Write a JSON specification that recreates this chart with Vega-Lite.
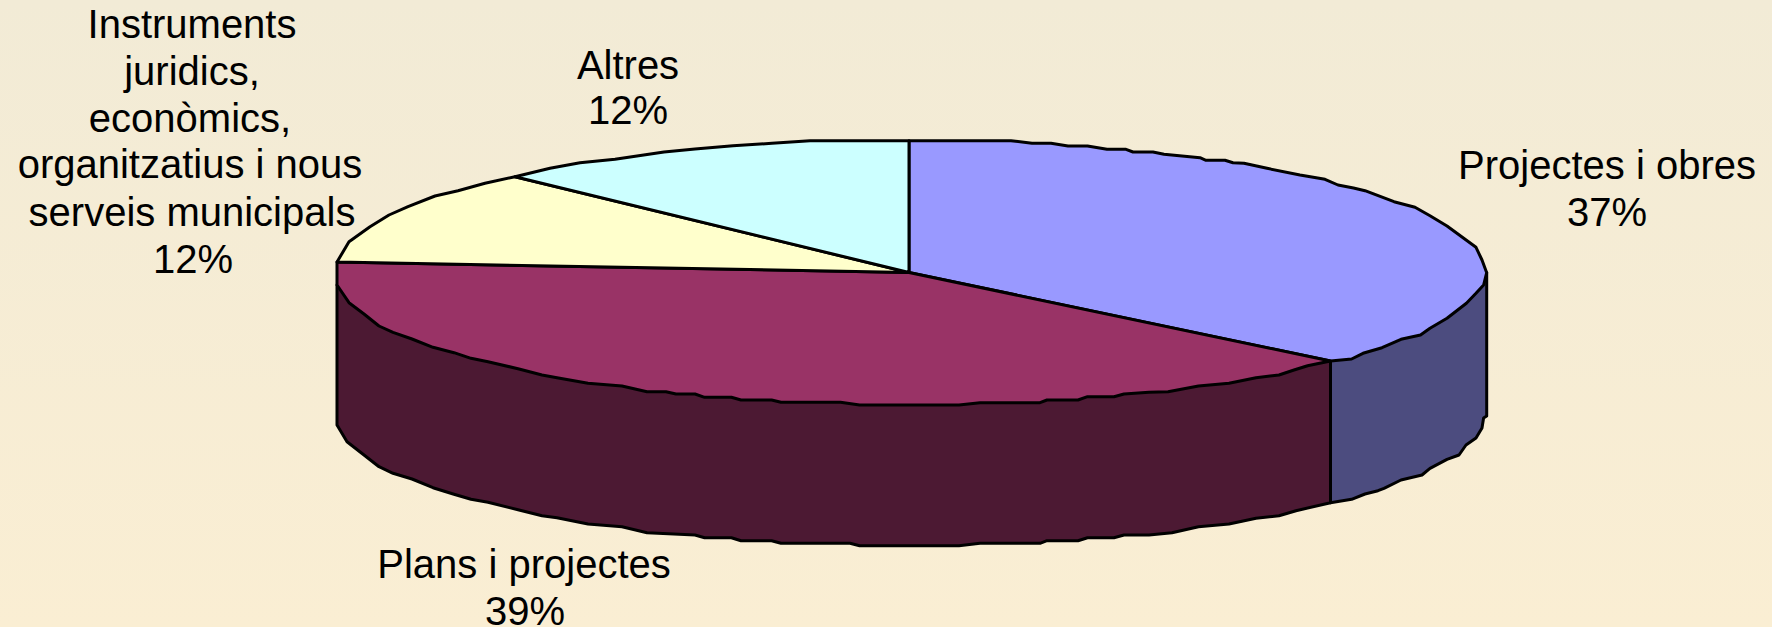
{"$schema":"https://vega.github.io/schema/vega-lite/v6.json","width":1772,"height":627,"padding":0,"autosize":{"type":"none"},"background":"#f6edd5","view":{"stroke":null,"fill":{"gradient":"linear","x1":0,"y1":0,"x2":0,"y2":1,"stops":[{"offset":0,"color":"#f2ebd6"},{"offset":1,"color":"#faeed3"}]}},"datasets":{"outline":[
{"slice":"Plans side","i":0,"x":337,"y":285},{"slice":"Plans side","i":1,"x":337,"y":425},{"slice":"Plans side","i":2,"x":347,"y":441.7},{"slice":"Plans side","i":3,"x":364,"y":455},{"slice":"Plans side","i":4,"x":379,"y":466.7},{"slice":"Plans side","i":5,"x":393,"y":473.3},{"slice":"Plans side","i":6,"x":412,"y":479},{"slice":"Plans side","i":7,"x":433,"y":487.7},{"slice":"Plans side","i":8,"x":454,"y":494.3},{"slice":"Plans side","i":9,"x":471,"y":499.3},{"slice":"Plans side","i":10,"x":488,"y":502.3},{"slice":"Plans side","i":11,"x":519,"y":510},{"slice":"Plans side","i":12,"x":542,"y":515.7},{"slice":"Plans side","i":13,"x":557,"y":517.7},{"slice":"Plans side","i":14,"x":588,"y":524},{"slice":"Plans side","i":15,"x":622,"y":526.7},{"slice":"Plans side","i":16,"x":647,"y":532.7},{"slice":"Plans side","i":17,"x":695,"y":535},{"slice":"Plans side","i":18,"x":704.6,"y":537.7},{"slice":"Plans side","i":19,"x":731.4,"y":537.7},{"slice":"Plans side","i":20,"x":741,"y":540.7},{"slice":"Plans side","i":21,"x":771.6,"y":540.7},{"slice":"Plans side","i":22,"x":781,"y":543.3},{"slice":"Plans side","i":23,"x":850,"y":543.3},{"slice":"Plans side","i":24,"x":859.6,"y":545.7},{"slice":"Plans side","i":25,"x":959,"y":545.7},{"slice":"Plans side","i":26,"x":980,"y":543.3},{"slice":"Plans side","i":27,"x":1040,"y":543.3},{"slice":"Plans side","i":28,"x":1047,"y":540.7},{"slice":"Plans side","i":29,"x":1078,"y":540.7},{"slice":"Plans side","i":30,"x":1087.5,"y":537.7},{"slice":"Plans side","i":31,"x":1114,"y":537.7},{"slice":"Plans side","i":32,"x":1124,"y":535},{"slice":"Plans side","i":33,"x":1149,"y":535},{"slice":"Plans side","i":34,"x":1172,"y":532.7},{"slice":"Plans side","i":35,"x":1198.5,"y":526.7},{"slice":"Plans side","i":36,"x":1229,"y":524},{"slice":"Plans side","i":37,"x":1256,"y":518.3},{"slice":"Plans side","i":38,"x":1279,"y":515.7},{"slice":"Plans side","i":39,"x":1296,"y":510.7},{"slice":"Plans side","i":40,"x":1330.5,"y":502.7},{"slice":"Plans side","i":41,"x":1330.5,"y":361},
{"slice":"Projectes side","i":0,"x":1486.7,"y":272.7},{"slice":"Projectes side","i":1,"x":1486.7,"y":416},{"slice":"Projectes side","i":2,"x":1483.6,"y":418},{"slice":"Projectes side","i":3,"x":1482,"y":428},{"slice":"Projectes side","i":4,"x":1476,"y":438},{"slice":"Projectes side","i":5,"x":1466,"y":445},{"slice":"Projectes side","i":6,"x":1459,"y":455},{"slice":"Projectes side","i":7,"x":1447,"y":459.3},{"slice":"Projectes side","i":8,"x":1430,"y":468.3},{"slice":"Projectes side","i":9,"x":1422,"y":475},{"slice":"Projectes side","i":10,"x":1401,"y":480},{"slice":"Projectes side","i":11,"x":1384,"y":488.3},{"slice":"Projectes side","i":12,"x":1378,"y":490.7},{"slice":"Projectes side","i":13,"x":1365,"y":494},{"slice":"Projectes side","i":14,"x":1351.6,"y":499.3},{"slice":"Projectes side","i":15,"x":1330.5,"y":502.7},{"slice":"Projectes side","i":16,"x":1330.5,"y":361},
{"slice":"Projectes i obres","i":0,"x":909,"y":272.5},{"slice":"Projectes i obres","i":1,"x":909,"y":140.7},{"slice":"Projectes i obres","i":2,"x":1011,"y":140.7},{"slice":"Projectes i obres","i":3,"x":1032,"y":143.3},{"slice":"Projectes i obres","i":4,"x":1051,"y":143.3},{"slice":"Projectes i obres","i":5,"x":1068,"y":146},{"slice":"Projectes i obres","i":6,"x":1087.5,"y":146},{"slice":"Projectes i obres","i":7,"x":1107,"y":149.3},{"slice":"Projectes i obres","i":8,"x":1126,"y":149.3},{"slice":"Projectes i obres","i":9,"x":1133,"y":152},{"slice":"Projectes i obres","i":10,"x":1153,"y":152},{"slice":"Projectes i obres","i":11,"x":1164,"y":154.3},{"slice":"Projectes i obres","i":12,"x":1200,"y":157.7},{"slice":"Projectes i obres","i":13,"x":1206,"y":160.3},{"slice":"Projectes i obres","i":14,"x":1225,"y":160.3},{"slice":"Projectes i obres","i":15,"x":1233,"y":162.7},{"slice":"Projectes i obres","i":16,"x":1244,"y":163.3},{"slice":"Projectes i obres","i":17,"x":1267,"y":168.3},{"slice":"Projectes i obres","i":18,"x":1300,"y":175},{"slice":"Projectes i obres","i":19,"x":1325,"y":179.3},{"slice":"Projectes i obres","i":20,"x":1338,"y":185},{"slice":"Projectes i obres","i":21,"x":1353.5,"y":188},{"slice":"Projectes i obres","i":22,"x":1365,"y":190.7},{"slice":"Projectes i obres","i":23,"x":1394,"y":201.7},{"slice":"Projectes i obres","i":24,"x":1415,"y":207.3},{"slice":"Projectes i obres","i":25,"x":1430,"y":215.7},{"slice":"Projectes i obres","i":26,"x":1447,"y":226},{"slice":"Projectes i obres","i":27,"x":1476,"y":247.3},{"slice":"Projectes i obres","i":28,"x":1482,"y":260},{"slice":"Projectes i obres","i":29,"x":1486.7,"y":272.7},{"slice":"Projectes i obres","i":30,"x":1483.6,"y":285},{"slice":"Projectes i obres","i":31,"x":1476,"y":293.3},{"slice":"Projectes i obres","i":32,"x":1466.4,"y":303.3},{"slice":"Projectes i obres","i":33,"x":1447,"y":318.3},{"slice":"Projectes i obres","i":34,"x":1430,"y":328.3},{"slice":"Projectes i obres","i":35,"x":1420.5,"y":335},{"slice":"Projectes i obres","i":36,"x":1401,"y":339.3},{"slice":"Projectes i obres","i":37,"x":1382,"y":347.7},{"slice":"Projectes i obres","i":38,"x":1363,"y":353.3},{"slice":"Projectes i obres","i":39,"x":1351.6,"y":359},{"slice":"Projectes i obres","i":40,"x":1330.5,"y":361},
{"slice":"Plans i projectes","i":0,"x":909,"y":272.5},{"slice":"Plans i projectes","i":1,"x":1330.5,"y":361},{"slice":"Plans i projectes","i":2,"x":1307.6,"y":365.7},{"slice":"Plans i projectes","i":3,"x":1294,"y":370},{"slice":"Plans i projectes","i":4,"x":1279,"y":375},{"slice":"Plans i projectes","i":5,"x":1256,"y":377.7},{"slice":"Plans i projectes","i":6,"x":1229,"y":383.3},{"slice":"Plans i projectes","i":7,"x":1198.5,"y":386},{"slice":"Plans i projectes","i":8,"x":1168,"y":391.7},{"slice":"Plans i projectes","i":9,"x":1149,"y":392.3},{"slice":"Plans i projectes","i":10,"x":1124,"y":394},{"slice":"Plans i projectes","i":11,"x":1114,"y":396.7},{"slice":"Plans i projectes","i":12,"x":1087.5,"y":396.7},{"slice":"Plans i projectes","i":13,"x":1078,"y":400},{"slice":"Plans i projectes","i":14,"x":1047,"y":400},{"slice":"Plans i projectes","i":15,"x":1040,"y":402.7},{"slice":"Plans i projectes","i":16,"x":980,"y":402.7},{"slice":"Plans i projectes","i":17,"x":959,"y":405},{"slice":"Plans i projectes","i":18,"x":859.6,"y":405},{"slice":"Plans i projectes","i":19,"x":840.5,"y":402.3},{"slice":"Plans i projectes","i":20,"x":781,"y":402.3},{"slice":"Plans i projectes","i":21,"x":771.6,"y":400},{"slice":"Plans i projectes","i":22,"x":741,"y":400},{"slice":"Plans i projectes","i":23,"x":731.4,"y":397.3},{"slice":"Plans i projectes","i":24,"x":704.6,"y":397.3},{"slice":"Plans i projectes","i":25,"x":695,"y":394},{"slice":"Plans i projectes","i":26,"x":676,"y":394},{"slice":"Plans i projectes","i":27,"x":666,"y":391.7},{"slice":"Plans i projectes","i":28,"x":647,"y":391.7},{"slice":"Plans i projectes","i":29,"x":622,"y":386},{"slice":"Plans i projectes","i":30,"x":588,"y":383.3},{"slice":"Plans i projectes","i":31,"x":557,"y":377.7},{"slice":"Plans i projectes","i":32,"x":542,"y":375},{"slice":"Plans i projectes","i":33,"x":519,"y":369},{"slice":"Plans i projectes","i":34,"x":488,"y":361.7},{"slice":"Plans i projectes","i":35,"x":471,"y":358.3},{"slice":"Plans i projectes","i":36,"x":454,"y":352.7},{"slice":"Plans i projectes","i":37,"x":433,"y":347.3},{"slice":"Plans i projectes","i":38,"x":412,"y":339},{"slice":"Plans i projectes","i":39,"x":393,"y":332.3},{"slice":"Plans i projectes","i":40,"x":379,"y":326},{"slice":"Plans i projectes","i":41,"x":364,"y":314},{"slice":"Plans i projectes","i":42,"x":349,"y":302.7},{"slice":"Plans i projectes","i":43,"x":337,"y":285},{"slice":"Plans i projectes","i":44,"x":337,"y":262},
{"slice":"Instruments","i":0,"x":909,"y":272.5},{"slice":"Instruments","i":1,"x":337,"y":262},{"slice":"Instruments","i":2,"x":349,"y":241.7},{"slice":"Instruments","i":3,"x":370,"y":226.7},{"slice":"Instruments","i":4,"x":389,"y":215},{"slice":"Instruments","i":5,"x":408,"y":206.7},{"slice":"Instruments","i":6,"x":435,"y":196},{"slice":"Instruments","i":7,"x":458,"y":190.7},{"slice":"Instruments","i":8,"x":485,"y":183.3},{"slice":"Instruments","i":9,"x":515,"y":176.7},
{"slice":"Altres","i":0,"x":909,"y":272.5},{"slice":"Altres","i":1,"x":515,"y":176.7},{"slice":"Altres","i":2,"x":550,"y":168.3},{"slice":"Altres","i":3,"x":580,"y":162.7},{"slice":"Altres","i":4,"x":615,"y":159.3},{"slice":"Altres","i":5,"x":664,"y":152},{"slice":"Altres","i":6,"x":695,"y":149},{"slice":"Altres","i":7,"x":733,"y":145.7},{"slice":"Altres","i":8,"x":772,"y":143.3},{"slice":"Altres","i":9,"x":810,"y":140.7},{"slice":"Altres","i":10,"x":909,"y":140.7}
],"labels":[
{"text":"Instruments","x":192,"y":37.7},{"text":"juridics,","x":192,"y":85},{"text":"econòmics,","x":190,"y":131.7},{"text":"organitzatius i nous","x":190,"y":178},{"text":"serveis municipals","x":192,"y":225.7},{"text":"12%","x":193,"y":273},
{"text":"Altres","x":628,"y":79},{"text":"12%","x":628,"y":124},
{"text":"Projectes i obres","x":1607,"y":179},{"text":"37%","x":1607,"y":226},
{"text":"Plans i projectes","x":524,"y":578},{"text":"39%","x":525,"y":625}
]},
"layer":[
{"data":{"name":"outline"},"mark":{"type":"line","interpolate":"linear-closed","stroke":"#000000","strokeWidth":3,"strokeJoin":"round"},"encoding":{"x":{"field":"x","type":"quantitative","scale":{"domain":[0,1772],"nice":false,"zero":false},"axis":null},"y":{"field":"y","type":"quantitative","scale":{"domain":[627,0],"nice":false,"zero":false},"axis":null},"order":{"field":"i","type":"quantitative"},"fill":{"field":"slice","type":"nominal","legend":null,"sort":null,"scale":{"domain":["Plans side","Projectes side","Projectes i obres","Plans i projectes","Instruments","Altres"],"range":["#4c1933","#4c4c7f","#9999ff","#993366","#ffffcc","#ccffff"]}}}},
{"data":{"name":"labels"},"mark":{"type":"text","font":"Liberation Sans","fontSize":40,"align":"center","baseline":"alphabetic","color":"#000000"},"encoding":{"x":{"field":"x","type":"quantitative","scale":{"domain":[0,1772],"nice":false,"zero":false},"axis":null},"y":{"field":"y","type":"quantitative","scale":{"domain":[627,0],"nice":false,"zero":false},"axis":null},"text":{"field":"text","type":"nominal"}}}
]}
